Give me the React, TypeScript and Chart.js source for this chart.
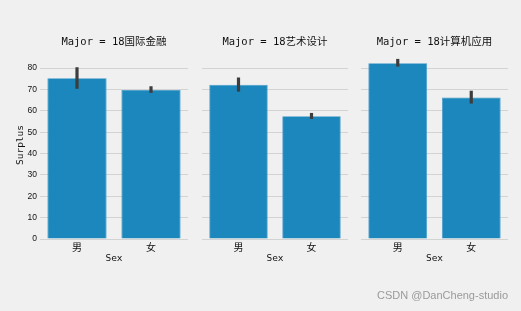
import React, { useEffect, useRef } from "react";
import { Chart, registerables } from "chart.js";

Chart.register(...registerables);

const majors = ["18国际金融", "18艺术设计", "18计算机应用"];
const sexes = ["男", "女"];
const surplusFinance = [75.3, 69.8];
const lowFinance = [70.3, 68.4];
const highFinance = [80.4, 71.5];
const surplusArt = [72.2, 57.5];
const lowArt = [69.0, 56.2];
const highArt = [75.6, 59.0];
const surplusCS = [82.3, 66.2];
const lowCS = [80.7, 63.4];
const highCS = [84.3, 69.4];
const yTicksMax = 88;

const W = 521;
const H = 311;
const MONO = '"DejaVu Sans Mono", "Noto Sans CJK SC", monospace';
const SANS = '"Liberation Sans", Arial, sans-serif';
const BAR = "#1b87bd";
const GRID = "#d3d3d3";
const TEXT = "#111";

const panels = [
  { major: majors[0], values: surplusFinance, lo: lowFinance, hi: highFinance, left: 0, right: W - 188, axis: true },
  { major: majors[1], values: surplusArt, lo: lowArt, hi: highArt, left: 202, right: W - 348, axis: false },
  { major: majors[2], values: surplusCS, lo: lowCS, hi: highCS, left: 361, right: W - 508, axis: false },
];

const errorBarPlugin = {
  id: "errorBars",
  afterDatasetsDraw(chart: any, _args: any, opts: any) {
    const meta = chart.getDatasetMeta(0);
    const y = chart.scales.y;
    const ctx = chart.ctx;
    ctx.save();
    ctx.strokeStyle = "#3d3d3d";
    ctx.lineWidth = 3.2;
    ctx.lineCap = "butt";
    meta.data.forEach((el: any, i: number) => {
      ctx.beginPath();
      ctx.moveTo(el.x, y.getPixelForValue(opts.lo[i]));
      ctx.lineTo(el.x, y.getPixelForValue(opts.hi[i]));
      ctx.stroke();
    });
    ctx.restore();
  },
};

const panelTitlePlugin = {
  id: "panelTitle",
  afterDraw(chart: any, _args: any, opts: any) {
    const ctx = chart.ctx;
    const a = chart.chartArea;
    ctx.save();
    ctx.fillStyle = TEXT;
    ctx.font = `10.5px ${MONO}`;
    ctx.textAlign = "center";
    ctx.textBaseline = "middle";
    ctx.fillText(opts.text, (a.left + a.right) / 2, 42.5);
    ctx.restore();
  },
};

function Panel({ p }: { p: (typeof panels)[number] }) {
  const ref = useRef<HTMLCanvasElement>(null);
  useEffect(() => {
    if (!ref.current) return;
    const chart = new Chart(ref.current, {
      type: "bar",
      data: {
        labels: sexes,
        datasets: [
          {
            data: p.values,
            backgroundColor: BAR,
            borderColor: "#3b97c6",
            borderWidth: 0.8,
            barPercentage: 0.8,
            categoryPercentage: 1.0,
          },
        ],
      },
      options: {
        responsive: false,
        animation: false,
        layout: { padding: { left: p.left, right: p.right, top: 51, bottom: 42 } },
        plugins: {
          legend: { display: false },
          tooltip: { enabled: false },
          title: { display: false },
          errorBars: { lo: p.lo, hi: p.hi },
          panelTitle: { text: `Major = ${p.major}` },
        } as any,
        scales: {
          x: {
            grid: { display: false },
            border: { display: false },
            ticks: { color: TEXT, font: { family: MONO, size: 10 }, padding: -5 },
            title: {
              display: true,
              text: "Sex",
              color: TEXT,
              font: { family: MONO, size: 9.5 },
              padding: { top: 0, bottom: 5 },
            },
            afterFit: (s: any) => {
              s.height = 30;
            },
          },
          y: {
            min: 0,
            max: yTicksMax,
            grid: { color: GRID, lineWidth: 1, drawTicks: false },
            border: { display: false },
            ticks: {
              display: p.axis,
              stepSize: 10,
              includeBounds: false,
              color: TEXT,
              font: { family: SANS, size: 8.5 },
              padding: 3,
            },
            title: {
              display: p.axis,
              text: "Surplus",
              color: TEXT,
              font: { family: MONO, size: 9.5 },
              padding: { top: 15, bottom: 0 },
            },
            afterFit: (s: any) => {
              s.width = p.axis ? 40 : 0;
            },
          },
        },
      } as any,
      plugins: [errorBarPlugin, panelTitlePlugin],
    });
    return () => chart.destroy();
  }, []);
  return (
    <canvas
      ref={ref}
      width={W}
      height={H}
      style={{ position: "absolute", left: 0, top: 0, width: W, height: H }}
    />
  );
}

export default function App() {
  return (
    <div
      style={{
        position: "fixed",
        left: 0,
        top: 0,
        width: W,
        height: H,
        background: "#f0f0f0",
        overflow: "hidden",
      }}
    >
      {panels.map((p) => (
        <Panel key={p.major} p={p} />
      ))}
      <div
        style={{
          position: "absolute",
          left: 377,
          top: 288,
          fontFamily: SANS,
          fontSize: 11,
          color: "#9a9a9a",
          lineHeight: "14px",
          whiteSpace: "nowrap",
        }}
      >
        CSDN @DanCheng-studio
      </div>
    </div>
  );
}
